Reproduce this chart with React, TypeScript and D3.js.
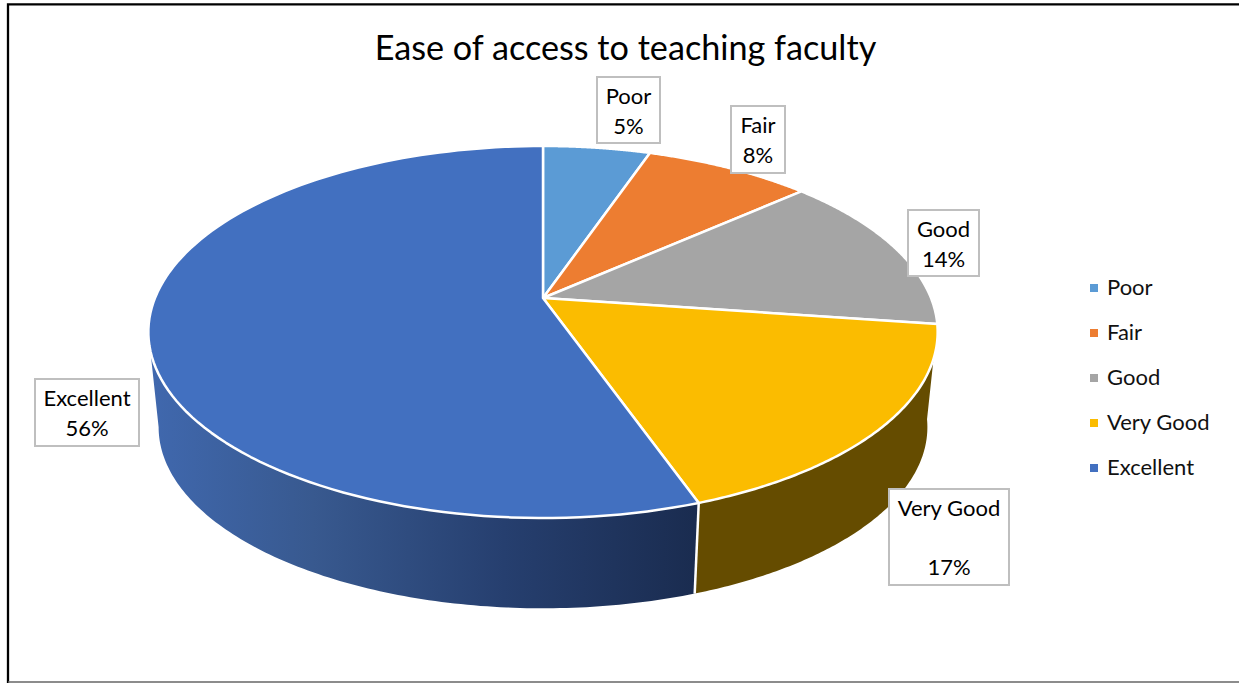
import React from "react";
import * as d3 from "d3";

const categories = ["Poor", "Fair", "Good", "Very Good", "Excellent"];
const values = [5.25, 8.2, 13.85, 17.4, 55.5];
const percentLabels = ["5%", "8%", "14%", "17%", "56%"];
const colors = ["#5B9BD5", "#ED7D31", "#A5A5A5", "#FBBC00", "#4270C0"];
const title = "Ease of access to teaching faculty";

const labelBoxes = [
  { x0: 597, x1: 660, y0: 77, y1: 143, lines: 1 },
  { x0: 731, x1: 785, y0: 106, y1: 173, lines: 1 },
  { x0: 908, x1: 979, y0: 210, y1: 276, lines: 1 },
  { x0: 889, x1: 1009, y0: 489, y1: 585, lines: 2 },
  { x0: 35, x1: 139, y0: 379, y1: 446, lines: 1 },
];

const FONT = "Lato, 'Noto Sans', sans-serif";
const W = 1239;
const H = 683;
const cx = 543;
const apexY = 298;
const persp = 0.1828;
const radX = 388;
const radY = 179.8;
const depth = 96;
const shrink = 0.974;

const topPt = (a: number): [number, number] => {
  const w = 1 + persp * Math.cos(a);
  return [cx + (radX * Math.sin(a)) / w, apexY - (radY * Math.cos(a)) / w];
};
const botPt = (a: number): [number, number] => {
  const [x, y] = topPt(a);
  return [cx + (x - cx) * shrink, apexY + depth + (y - apexY) * shrink];
};

const line = d3.line<[number, number]>().x((d) => d[0]).y((d) => d[1]);
const color = d3.scaleOrdinal<string, string>().domain(categories).range(colors);
const pie = d3.pie<number>().sort(null).startAngle(0).endAngle(2 * Math.PI);
const arcs = pie(values);

const sweep = (a0: number, a1: number) => d3.range(0, 121).map((i) => a0 + ((a1 - a0) * i) / 120);
const topFace = (a0: number, a1: number) =>
  line([[cx, apexY], ...sweep(a0, a1).map(topPt)]) + "Z";
const sideFace = (a0: number, a1: number) => {
  const s = sweep(a0, a1);
  return line([...s.map(topPt), ...s.slice().reverse().map(botPt)]) + "Z";
};
const leftTangent = 2 * Math.PI - Math.acos(-persp);

export default function App() {
  const vg = arcs[3];
  const ex = arcs[4];
  return (
    <svg
      width={W}
      height={H}
      viewBox={`0 0 ${W} ${H}`}
      style={{ position: "fixed", left: 0, top: 0, display: "block", background: "#fff" }}
    >
      <defs>
        <linearGradient id="excSide" gradientUnits="userSpaceOnUse" x1={150} x2={694} y1={0} y2={0}>
          <stop offset="0" stopColor="#4068AE" />
          <stop offset="0.3" stopColor="#38598F" />
          <stop offset="0.65" stopColor="#263F6F" />
          <stop offset="1" stopColor="#1A2C50" />
        </linearGradient>
      </defs>
      <rect x={0} y={0} width={W} height={H} fill="#fff" />
      <path d={`M8 683V4.3H${W}`} fill="none" stroke="#000" strokeWidth={2.3} />
      <line x1={8} x2={W} y1={682} y2={682} stroke="#666" strokeWidth={1.5} />

      <text x={625.5} y={60} textAnchor="middle" fontFamily={FONT} fontSize={34.2} fill="#000">
        {title}
      </text>

      <path d={sideFace(ex.startAngle, leftTangent)} fill="url(#excSide)" stroke="none" />
      <path d={sideFace(vg.startAngle, vg.endAngle)} fill="#654C00" stroke="none" />
      <line
        x1={topPt(ex.startAngle)[0]}
        y1={topPt(ex.startAngle)[1]}
        x2={botPt(ex.startAngle)[0]}
        y2={botPt(ex.startAngle)[1]}
        stroke="#fff"
        strokeWidth={2.5}
      />

      {arcs.map((a, i) => (
        <path
          key={categories[i]}
          d={topFace(a.startAngle, a.endAngle)}
          fill={color(categories[i])}
          stroke="#fff"
          strokeWidth={2.5}
          strokeLinejoin="round"
        />
      ))}

      {labelBoxes.map((b, i) => {
        const mid = (b.x0 + b.x1) / 2;
        const base = b.y0 + 26.5;
        const pctY = b.lines === 2 ? b.y0 + 86 : b.y0 + 56.5;
        return (
          <g key={categories[i]}>
            <rect
              x={b.x0}
              y={b.y0}
              width={b.x1 - b.x0}
              height={b.y1 - b.y0}
              fill="#fff"
              stroke="#BFBFBF"
              strokeWidth={2}
            />
            <text x={mid} y={base} textAnchor="middle" fontFamily={FONT} fontSize={22} fill="#000">
              {categories[i]}
            </text>
            <text x={mid} y={pctY} textAnchor="middle" fontFamily={FONT} fontSize={22} fill="#000">
              {percentLabels[i]}
            </text>
          </g>
        );
      })}

      {categories.map((c, i) => (
        <g key={c}>
          <rect x={1090} y={284 + i * 45} width={8} height={8} fill={color(c)} />
          <text x={1107} y={295 + i * 45} fontFamily={FONT} fontSize={22} fill="#111">
            {c}
          </text>
        </g>
      ))}
    </svg>
  );
}
